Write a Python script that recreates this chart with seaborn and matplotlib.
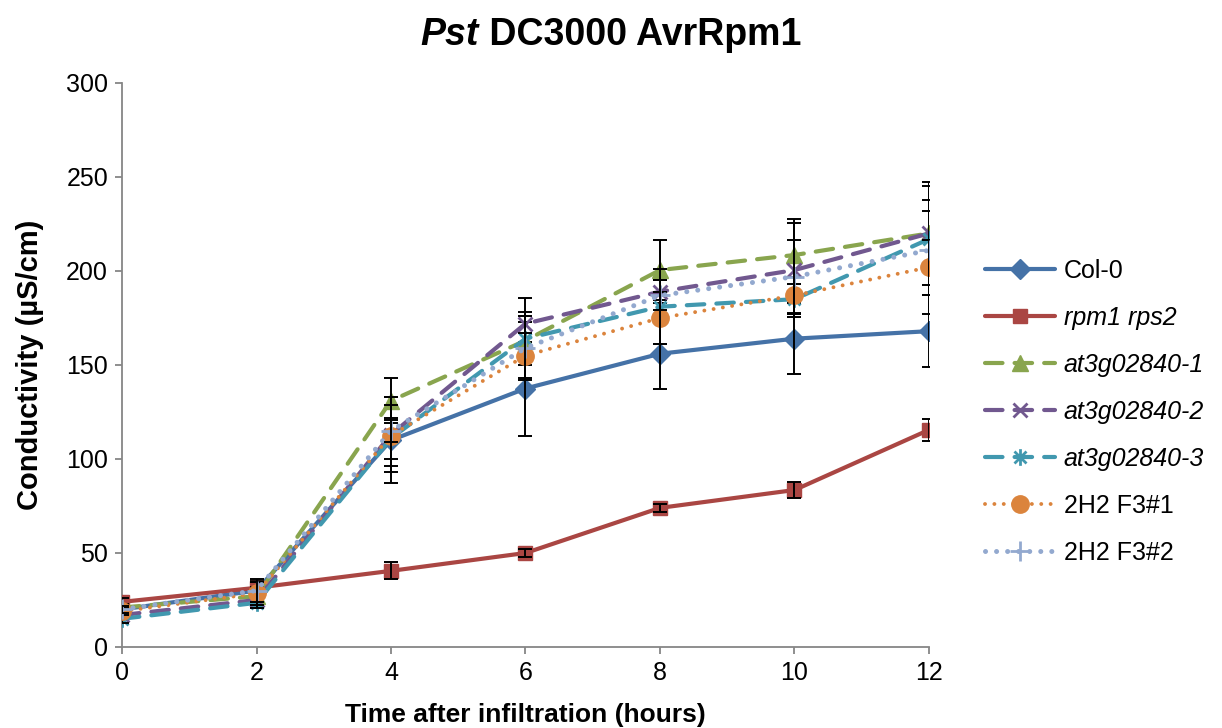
import numpy as np
import pandas as pd
import seaborn as sns
import matplotlib
matplotlib.use("Agg")
import matplotlib.pyplot as plt
from matplotlib.path import Path

# Electrolyte leakage after infiltration with Pst DC3000 AvrRpm1
hours = [0, 2, 4, 6, 8, 10, 12]

col0 = [20, 30, 110, 137.5, 156, 164, 168]
col0_err = [3, 5, 23, 25, 19, 19, 19]
rpm1_rps2 = [24, 31.5, 40.5, 50, 74, 83.5, 115.5]
rpm1_rps2_err = [2, 3, 4.5, 2, 2, 4.5, 6]
at1 = [21, 27, 131, 163, 200.5, 208.5, 220]
at1_err = [2, 5, 12, 10, 16, 19, 18]
at2 = [17, 25, 113, 172, 189, 200.5, 220]
at2_err = [2, 4, 20, 13.5, 6, 25, 27.5]
at3 = [15, 23.5, 111, 164, 181, 185, 217]
at3_err = [2, 3, 11, 14, 20, 8, 15]
f3_1 = [19, 28.5, 112.5, 155, 175, 187, 202]
f3_1_err = [2, 6, 16, 12, 14, 10, 14.5]
f3_2 = [20, 30, 115, 159, 187, 197, 211]
f3_2_err = [2, 6, 6, 17, 8, 19.5, 34]

labels = ["Col-0", "rpm1 rps2", "at3g02840-1", "at3g02840-2",
          "at3g02840-3", "2H2 F3#1", "2H2 F3#2"]
italic_labels = {"rpm1 rps2", "at3g02840-1", "at3g02840-2", "at3g02840-3"}

sns.set_style("white")
plt.rcParams["font.family"] = ["Liberation Sans", "DejaVu Sans"]
plt.rcParams["lines.dash_capstyle"] = "round"
plt.rcParams["text.color"] = "black"
plt.rcParams["axes.labelcolor"] = "black"

# Excel-style asterisk: an x crossed by a vertical bar
star_path = Path(
    [(0, -1), (0, 1), (-0.72, -0.72), (0.72, 0.72), (-0.72, 0.72), (0.72, -0.72)],
    [Path.MOVETO, Path.LINETO, Path.MOVETO, Path.LINETO, Path.MOVETO, Path.LINETO],
)

styles = [
    dict(color="#4572A7", ls="-", lw=3.0, marker="D", ms=10, mfc="#4572A7", mec="#4572A7", mew=1),
    dict(color="#AA4643", ls="-", lw=3.0, marker="s", ms=10.5, mfc="#AA4643", mec="#AA4643", mew=1),
    dict(color="#89A54E", ls=(0, (4.2, 2.9)), lw=3.0, marker="^", ms=11.5, mfc="#89A54E", mec="#89A54E", mew=1),
    dict(color="#71588F", ls=(0, (4.2, 2.9)), lw=3.0, marker="x", ms=10.5, mfc="none", mec="#71588F", mew=2),
    dict(color="#4198AF", ls=(0, (4.2, 2.9)), lw=3.0, marker=star_path, ms=12, mfc="none", mec="#4198AF", mew=2),
    dict(color="#DB843D", ls=(0, (0.01, 2.4)), lw=2.8, marker="o", ms=12.5, mfc="#DB843D", mec="#DB843D", mew=1),
    dict(color="#93A9CF", ls=(0, (0.01, 2.2)), lw=3.6, marker="+", ms=14, mfc="none", mec="#93A9CF", mew=2),
]

series = [col0, rpm1_rps2, at1, at2, at3, f3_1, f3_2]
errors = [col0_err, rpm1_rps2_err, at1_err, at2_err, at3_err, f3_1_err, f3_2_err]

fig = plt.figure(figsize=(12.22, 7.28), dpi=100)
ax = fig.add_axes([122 / 1222, 81 / 728, (929 - 122) / 1222, (647 - 83) / 728])

handles = []
for i, (lab, vals, err, st) in enumerate(zip(labels, series, errors, styles)):
    n_before = len(ax.lines)
    sns.lineplot(
        x=hours, y=vals, ax=ax, errorbar=None, label=lab,
        color=st["color"], linestyle=st["ls"], linewidth=st["lw"],
        marker=st["marker"], markersize=st["ms"], markerfacecolor=st["mfc"],
        markeredgecolor=st["mec"], markeredgewidth=st["mew"],
        zorder=3 + i,
    )
    handles.append(ax.lines[n_before])
    ax.errorbar(hours, vals, yerr=err, fmt="none", ecolor="black",
                elinewidth=1.4, capsize=4.7, capthick=1.4, zorder=3.5 + i)

if ax.legend_ is not None:
    ax.legend_.remove()

ax.set_xlim(0, 12)
ax.set_ylim(0, 300)
ax.set_xticks(range(0, 13, 2))
ax.set_yticks(range(0, 301, 50))
ax.grid(False)
for side in ("top", "right"):
    ax.spines[side].set_visible(False)
for side in ("left", "bottom"):
    ax.spines[side].set_color("#868686")
    ax.spines[side].set_linewidth(1.3)
ax.tick_params(axis="both", which="major", direction="out", length=5, width=1.3,
               color="#868686", labelsize=18, labelcolor="black", pad=5)
ax.tick_params(left=True, bottom=True)

ax.set_xlabel("Time after infiltration (hours)", fontsize=19, fontweight="bold",
              labelpad=13, color="black")
ax.set_ylabel("Conductivity (µS/cm)", fontsize=21, fontweight="bold",
              labelpad=16, color="black")

leg = fig.legend(handles, labels, loc="center left",
                 bbox_to_anchor=(985 / 1222, 1 - 412 / 728),
                 frameon=False, fontsize=18, handlelength=2.8,
                 handletextpad=0.35, labelspacing=0.92, borderaxespad=0,
                 borderpad=0, numpoints=1)
for txt in leg.get_texts():
    txt.set_color("black")
    if txt.get_text() in italic_labels:
        txt.set_fontstyle("italic")

# Title with italic species abbreviation, centred on the figure
renderer = fig.canvas.get_renderer()
t1 = fig.text(0, 0, "Pst", fontsize=27, fontweight="bold", fontstyle="italic", color="black")
t2 = fig.text(0, 0, " DC3000 AvrRpm1", fontsize=27, fontweight="bold", color="black")
w1 = t1.get_window_extent(renderer).width / fig.bbox.width
w2 = t2.get_window_extent(renderer).width / fig.bbox.width
x0 = 0.5 - (w1 + w2) / 2
ty = 1 - 45 / 728
t1.set_position((x0, ty))
t2.set_position((x0 + w1, ty))

fig.savefig("out.png", dpi=100)
